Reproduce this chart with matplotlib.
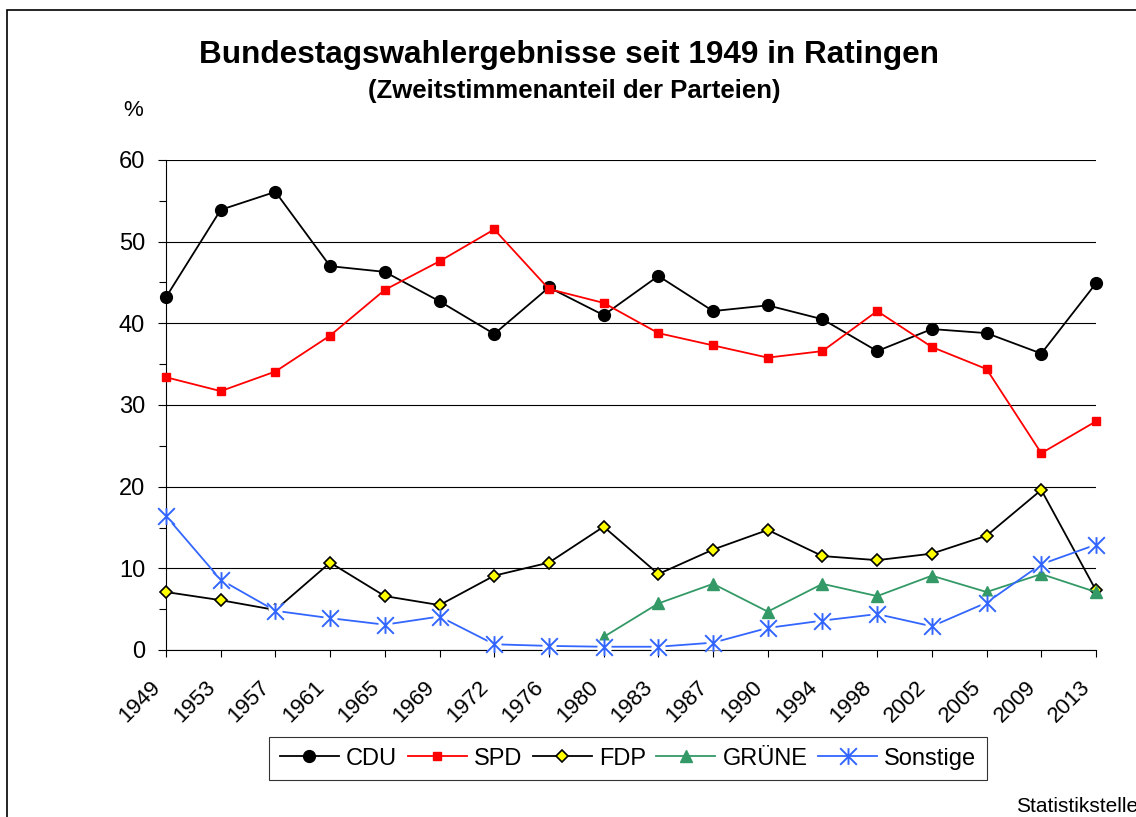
import matplotlib
matplotlib.use("Agg")
import matplotlib.pyplot as plt
import matplotlib.transforms as mtransforms
from matplotlib.path import Path
from matplotlib.patches import Rectangle

plt.rcParams['font.family'] = ['Liberation Sans', 'DejaVu Sans']

years = ['1949', '1953', '1957', '1961', '1965', '1969', '1972', '1976', '1980',
         '1983', '1987', '1990', '1994', '1998', '2002', '2005', '2009', '2013']

cdu = [43.2, 53.9, 56.1, 47.0, 46.3, 42.7, 38.7, 44.4, 41.0,
       45.8, 41.5, 42.2, 40.5, 36.6, 39.3, 38.8, 36.3, 44.9]
spd = [33.4, 31.7, 34.1, 38.5, 44.1, 47.6, 51.5, 44.2, 42.5,
       38.8, 37.3, 35.8, 36.6, 41.5, 37.1, 34.4, 24.1, 28.0]
fdp = [7.1, 6.1, 4.9, 10.7, 6.6, 5.5, 9.1, 10.7, 15.1,
       9.3, 12.3, 14.7, 11.5, 11.0, 11.8, 14.0, 19.6, 7.3]
# Grüne erst ab 1980
gruene_years = years[8:]
gruene = [1.6, 5.7, 8.1, 4.7, 8.1, 6.6, 9.1, 7.1, 9.3, 7.1]
sonstige = [16.4, 8.6, 4.8, 3.9, 3.1, 4.1, 0.7, 0.5, 0.4,
            0.4, 0.9, 2.7, 3.6, 4.4, 2.9, 5.8, 10.5, 12.9]

# Excel-Stern: X mit senkrechtem Strich
star = Path([(-1, -1), (1, 1), (-1, 1), (1, -1), (0, -1), (0, 1)],
            [Path.MOVETO, Path.LINETO, Path.MOVETO, Path.LINETO, Path.MOVETO, Path.LINETO])

W, H = 1136, 817
fig = plt.figure(figsize=(W / 100, H / 100), dpi=100)
ax = fig.add_axes([166 / W, 1 - 650 / H, (1096 - 166) / W, (650 - 160) / H])

x = list(range(len(years)))
xg = [years.index(y) for y in gruene_years]

ax.plot(x, cdu, color='black', lw=1.3, marker='o', ms=8.5, mfc='black', mec='black',
        label='CDU', zorder=3, clip_on=False)
ax.plot(x, spd, color='#ff0000', lw=1.3, marker='s', ms=5.5, mfc='#ff0000', mec='#ff0000',
        label='SPD', zorder=4, clip_on=False)
ax.plot(x, fdp, color='black', lw=1.3, marker='D', ms=6.5, mfc='#ffff00', mec='black',
        mew=1.2, label='FDP', zorder=5, clip_on=False)
ax.plot(xg, gruene, color='#339966', lw=1.3, marker='^', ms=9, mfc='#339966', mec='#339966',
        label='GRÜNE', zorder=6, clip_on=False)
# weisser Hintergrund der Sterne
ax.plot(x, sonstige, color='#3366ff', lw=1.3, zorder=7, clip_on=False)
ax.plot(x, sonstige, ls='none', marker='s', ms=10, mfc='white', mec='none', zorder=8,
        clip_on=False)
ax.plot(x, sonstige, ls='none', marker=star, ms=12, mew=1.4, mec='#3366ff', mfc='none',
        zorder=9, clip_on=False)
ax.plot([], [], color='#3366ff', lw=1.3, marker=star, ms=12, mew=1.4, mec='#3366ff',
        mfc='none', label='Sonstige')

ax.set_xlim(0, len(years) - 1)
ax.set_ylim(0, 60)
ax.set_yticks(range(0, 61, 10))
ax.set_yticks(range(5, 60, 10), minor=True)
ax.yaxis.grid(True, color='black', lw=0.8)
ax.set_axisbelow(True)
for s in ['top', 'right']:
    ax.spines[s].set_visible(False)
ax.spines['left'].set_linewidth(0.8)
ax.spines['bottom'].set_linewidth(0.8)

ax.tick_params(axis='y', which='major', length=6, width=0.8, pad=9, labelsize=17)
ax.tick_params(axis='y', which='minor', length=5, width=0.8)
ax.tick_params(axis='x', length=5, width=0.8)
ax.set_xticks(x, labels=[])
# Jahreszahlen schraeg unter den Ticks
lab_trans = ax.get_xaxis_transform() + mtransforms.ScaledTranslation(-16 / 100, -27 / 100,
                                                                       fig.dpi_scale_trans)
for i, yr in zip(x, years):
    ax.text(i, 0, yr, transform=lab_trans, rotation=45, rotation_mode='anchor',
            ha='right', va='top', fontsize=16)

fig.text(569 / W, 1 - 63 / H, 'Bundestagswahlergebnisse seit 1949 in Ratingen',
         ha='center', va='baseline', fontsize=22.7, fontweight='bold')
fig.text(574 / W, 1 - 98 / H, '(Zweitstimmenanteil der Parteien)',
         ha='center', va='baseline', fontsize=18.5, fontweight='bold')
fig.text(133 / W, 1 - 116 / H, '%', ha='center', va='baseline', fontsize=16)
fig.text(1016 / W, 1 - 812 / H, 'Statistikstelle', ha='left', va='baseline', fontsize=15)

leg = ax.legend(loc='upper center', bbox_to_anchor=(628 / W, 1 - 737 / H),
                bbox_transform=fig.transFigure, ncol=5, fontsize=17, frameon=True,
                fancybox=False, edgecolor='black', handlelength=2.5, handletextpad=0.3,
                columnspacing=0.45, borderpad=0.45, borderaxespad=0)
leg.get_frame().set_linewidth(0.8)

# Rahmen um das Diagramm
fig.patches.append(Rectangle((7 / W, -0.1), 1.2, 1 - 10 / H + 0.1, transform=fig.transFigure,
                             fill=False, edgecolor='black', lw=1.2))

fig.savefig('out.png', dpi=100, facecolor='white')
